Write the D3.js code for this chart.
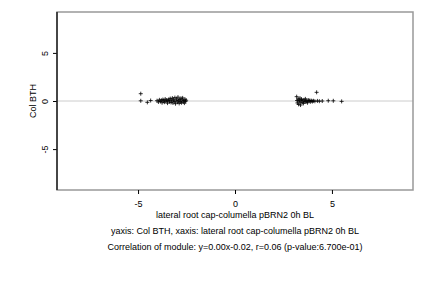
<!DOCTYPE html>
<html lang="en">
<head>
	<meta charset="UTF-8">
	<title>Module correlation</title>
	<script src="https://cdn.jsdelivr.net/npm/d3@7"></script>
	<style>
		body { margin: 0; background: #fff; }
		text { font-family: "Liberation Sans", Arial, sans-serif; fill: #000; }
	</style>
</head>
<body>
	<div id="container"></div>
	<script>
		// data
		var xVals = [-4.86, -4.86, -4.52, -4.35,
			-4.02, -3.95, -3.90, -3.85, -3.80, -3.76, -3.72, -3.68, -3.64, -3.60, -3.56, -3.52, -3.48, -3.45,
			-3.41, -3.38, -3.34, -3.30, -3.27, -3.23, -3.20, -3.17, -3.13, -3.10, -3.07, -3.03, -3.00, -2.97,
			-2.94, -2.91, -2.88, -2.85, -2.82, -2.79, -2.76, -2.73, -2.70, -2.67, -2.64, -2.61, -2.58, -2.55, -2.52,
			3.18, 3.20, 3.22, 3.25, 3.28, 3.30, 3.33, 3.35, 3.38, 3.40, 3.43, 3.46, 3.50, 3.53, 3.56, 3.60,
			3.63, 3.66, 3.70, 3.74, 3.78, 3.82, 3.86, 3.90, 3.95, 4.00, 4.05, 4.12, 4.21, 4.25, 4.35, 4.50,
			4.81, 5.07, 5.50];
		var yVals = [0.76, 0.02, -0.14, 0.05,
			0.03, -0.10, 0.12, -0.05, 0.08, -0.18, 0.15, 0.02, -0.12, 0.20, -0.03, 0.10, -0.22, 0.05,
			0.18, -0.08, 0.25, -0.15, 0.06, 0.30, -0.20, 0.12, -0.05, 0.35, -0.28, 0.08, 0.22, -0.12,
			0.40, 0.02, -0.25, 0.15, -0.06, 0.28, -0.18, 0.10, 0.32, -0.10, 0.05, -0.22, 0.18, -0.04, 0.08,
			0.45, 0.05, -0.20, 0.20, -0.35, 0.10, -0.08, 0.30, -0.42, 0.02, 0.18, -0.15, 0.08, -0.25, 0.12, -0.05,
			0.22, -0.10, 0.04, -0.18, 0.10, -0.02, 0.06, -0.08, 0.03, -0.05, 0.02, -0.03, 0.90, 0.01, -0.02, 0.00,
			0.03, 0.02, -0.04];
		var xTicks = [-5, 0, 5];
		var yTicks = [-5, 0, 5];
		var xLabel = "lateral root cap-columella pBRN2 0h BL";
		var yLabel = "Col BTH";
		var subLines = ["yaxis: Col BTH, xaxis: lateral root cap-columella pBRN2 0h BL",
			"Correlation of module: y=0.00x-0.02, r=0.06 (p-value:6.700e-01)"];

		var width = 432, height = 288;
		var pLeft = 57, pRight = 413, pTop = 12, pBottom = 190;
		var fs = "9px";

		var svg = d3.select("#container").append("svg")
				.attr("width", width)
				.attr("height", height);

		var x = d3.scaleLinear().domain([-9.18, 9.18]).range([pLeft, pRight]);
		var y = d3.scaleLinear().domain([-9.25, 9.25]).range([pBottom, pTop]);

		// zero line
		svg.append("line")
			.attr("x1", pLeft).attr("x2", pRight)
			.attr("y1", y(0)).attr("y2", y(0))
			.style("stroke", "#cccccc").style("stroke-width", 1);

		// box
		svg.append("rect")
			.attr("x", pLeft).attr("y", pTop)
			.attr("width", pRight - pLeft).attr("height", pBottom - pTop)
			.style("fill", "none").style("stroke", "#999").style("stroke-width", 1.5);

		var xAxis = d3.axisBottom(x).tickValues(xTicks).tickSize(4).tickSizeOuter(0).tickPadding(7)
				.tickFormat(function(d){ return String(d); });
		var xAxisG = svg.append("g").attr("transform", "translate(0," + pBottom + ")").call(xAxis);
		xAxisG.select(".domain").remove();
		xAxisG.selectAll("text").style("font-size", fs);

		var yAxis = d3.axisLeft(y).tickValues(yTicks).tickSize(4).tickSizeOuter(0)
				.tickFormat(function(d){ return String(d); });
		var yAxisG = svg.append("g").attr("transform", "translate(" + pLeft + ",0)").call(yAxis);
		yAxisG.select(".domain").remove();
		yAxisG.selectAll("text")
			.style("font-size", fs)
			.attr("text-anchor", "middle")
			.attr("x", 0).attr("y", 0).attr("dy", 0)
			.attr("transform", "translate(-9,0) rotate(-90)");

		svg.append("line")
			.attr("x1", pLeft).attr("x2", pLeft)
			.attr("y1", pTop).attr("y2", pBottom)
			.style("stroke", "#222").style("stroke-width", 1.5);

		// points
		var pts = d3.zip(xVals, yVals);
		svg.selectAll(".pt").data(pts)
			.enter().append("path")
				.attr("class", "pt")
				.attr("d", "M-2,0H2M0,-2V2")
				.attr("transform", function(d){ return "translate(" + x(d[0]) + "," + y(d[1]) + ")"; })
				.style("stroke", "#000").style("stroke-width", 0.8).style("fill", "none");

		// labels
		svg.append("text")
			.attr("x", (pLeft + pRight) / 2).attr("y", 218)
			.attr("text-anchor", "middle").style("font-size", fs)
			.text(xLabel);

		svg.append("text")
			.attr("transform", "translate(36," + (pTop + pBottom) / 2 + ") rotate(-90)")
			.attr("text-anchor", "middle").style("font-size", fs)
			.style("fill", "#000")
			.text(yLabel);

		svg.selectAll(".sub").data(subLines)
			.enter().append("text")
				.attr("class", "sub")
				.attr("x", (pLeft + pRight) / 2)
				.attr("y", function(d, i){ return 234 + i * 16; })
				.attr("text-anchor", "middle").style("font-size", fs)
				.text(function(d){ return d; });
	</script>
</body>
</html>
